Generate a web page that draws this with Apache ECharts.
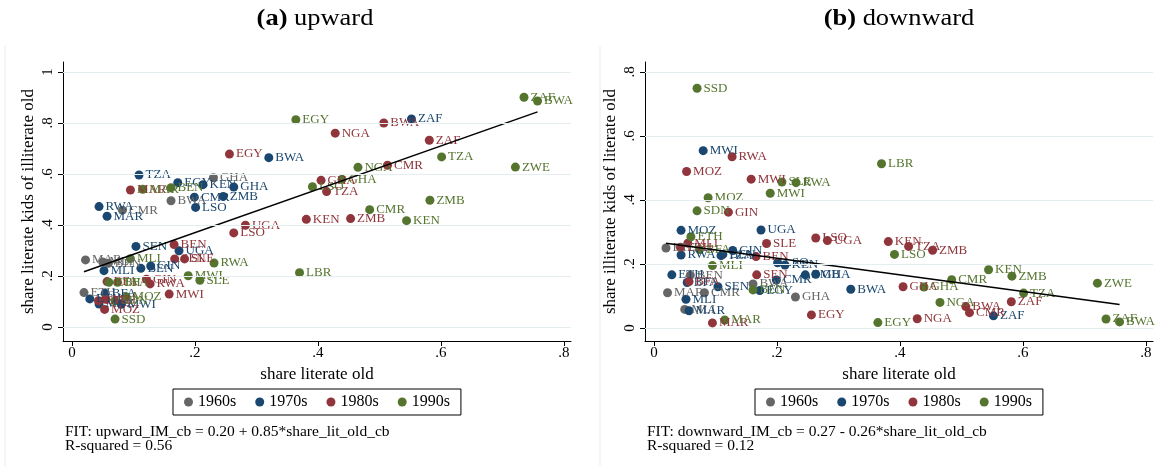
<!DOCTYPE html>
<html>
<head>
<meta charset="utf-8">
<script src="https://cdn.jsdelivr.net/npm/echarts@6/dist/echarts.min.js"></script>
<style>
  html, body { margin: 0; padding: 0; background: #fff; }
  #chart { width: 1165px; height: 466px; }
</style>
</head>
<body>
<div id="chart"></div>
<script>
// Intergenerational literacy mobility by country and birth decade.
// x: share of the old generation that is literate; up: share of literate kids of illiterate old;
// down: share of illiterate kids of literate old.
const decades = ['1960s', '1970s', '1980s', '1990s'];
const decadeColors = ['#666666', '#1a476f', '#90353b', '#55752f'];

const names1960 = ['GHA', 'BWA', 'CMR', 'MAR', 'ETH', 'MLI', 'BEN'];
const x1960 =    [0.230, 0.161, 0.082, 0.022, 0.0195, 0.050, 0.059];
const up1960 =   [0.585, 0.495, 0.458, 0.263, 0.135, 0.255, 0.250];
const down1960 = [0.097, 0.1375, 0.110, 0.110, 0.250, 0.058, 0.165];

const names1970 = ['TZA', 'EGY', 'KEN', 'GHA', 'CMR', 'ZMB', 'LSO', 'RWA', 'MAR', 'BWA', 'ZAF', 'SEN', 'UGA', 'MLI', 'BEN', 'GIN', 'BFA', 'ETH', 'MOZ', 'MWI'];
const x1970 =    [0.109, 0.172, 0.213, 0.263, 0.199, 0.246, 0.201, 0.044, 0.057, 0.320, 0.552, 0.104, 0.174, 0.052, 0.112, 0.128, 0.054, 0.029, 0.044, 0.080];
const up1970 =   [0.596, 0.566, 0.558, 0.549, 0.509, 0.512, 0.469, 0.472, 0.434, 0.664, 0.816, 0.316, 0.299, 0.221, 0.230, 0.239, 0.132, 0.110, 0.090, 0.089];
const down1970 = [0.226, 0.117, 0.197, 0.168, 0.150, 0.166, 0.204, 0.228, 0.054, 0.121, 0.038, 0.129, 0.306, 0.090, 0.230, 0.242, 0.142, 0.166, 0.305, 0.554];

const names1980 = ['MAR', 'EGY', 'NGA', 'BWA', 'ZAF', 'CMR', 'GHA', 'TZA', 'KEN', 'ZMB', 'UGA', 'LSO', 'BEN', 'SEN', 'SLE', 'GIN', 'RWA', 'MWI', 'MOZ', 'BFA', 'ETH', 'MLI'];
const x1980 =    [0.095, 0.256, 0.428, 0.507, 0.581, 0.513, 0.405, 0.414, 0.381, 0.453, 0.282, 0.263, 0.166, 0.167, 0.183, 0.121, 0.127, 0.158, 0.053, 0.057, 0.043, 0.055];
const up1980 =   [0.537, 0.678, 0.760, 0.800, 0.732, 0.634, 0.575, 0.531, 0.422, 0.425, 0.399, 0.369, 0.323, 0.267, 0.267, 0.187, 0.169, 0.129, 0.069, 0.178, 0.103, 0.109];
const down1980 = [0.016, 0.041, 0.029, 0.067, 0.082, 0.048, 0.129, 0.255, 0.270, 0.243, 0.273, 0.281, 0.223, 0.166, 0.264, 0.362, 0.535, 0.465, 0.489, 0.145, 0.252, 0.265];

const names1990 = ['ZAF', 'BWA', 'EGY', 'NGA', 'TZA', 'ZWE', 'GHA', 'LSO', 'ZMB', 'CMR', 'KEN', 'LBR', 'RWA', 'SLE', 'MWI', 'MOZ', 'SDN', 'SSD', 'ETH', 'BFA', 'MAR', 'BEN', 'MLI'];
const x1990 =    [0.735, 0.757, 0.364, 0.465, 0.601, 0.721, 0.439, 0.391, 0.582, 0.484, 0.544, 0.370, 0.231, 0.208, 0.189, 0.088, 0.070, 0.070, 0.060, 0.074, 0.115, 0.161, 0.095];
const up1990 =   [0.901, 0.886, 0.813, 0.626, 0.667, 0.627, 0.579, 0.550, 0.497, 0.460, 0.417, 0.213, 0.251, 0.183, 0.201, 0.119, 0.103, 0.031, 0.175, 0.175, 0.540, 0.546, 0.268];
const down1990 = [0.028, 0.019, 0.017, 0.080, 0.109, 0.140, 0.128, 0.230, 0.162, 0.151, 0.182, 0.513, 0.454, 0.456, 0.421, 0.407, 0.366, 0.749, 0.285, 0.245, 0.025, 0.119, 0.195];

// Linear fits reported under each panel
const fitUp = { a: 0.20, b: 0.85 };
const fitDown = { a: 0.27, b: -0.26 };

const xTicks = [0, 0.2, 0.4, 0.6, 0.8];
const yTicksUp = [0, 0.2, 0.4, 0.6, 0.8, 1];
const yTicksDown = [0, 0.2, 0.4, 0.6, 0.8];

const panelTitles = [['(a)', ' upward'], ['(b)', ' downward']];
const xTitle = 'share literate old';
const yTitles = ['share literate kids of illiterate old', 'share illiterate kids of literate old'];
const fitNotes = [
  ['FIT: upward_IM_cb = 0.20 + 0.85*share_lit_old_cb', 'R-squared = 0.56'],
  ['FIT: downward_IM_cb = 0.27 - 0.26*share_lit_old_cb', 'R-squared = 0.12']
];

const names = [names1960, names1970, names1980, names1990];
const xs = [x1960, x1970, x1980, x1990];
const ups = [up1960, up1970, up1980, up1990];
const downs = [down1960, down1970, down1980, down1990];

const FONT = '"Liberation Serif", "DejaVu Serif", serif';

function stataTick(v) {
  if (v === 0) return '0';
  if (v === 1) return '1';
  return String(Math.round(v * 10) / 10).replace(/^0/, '');
}

function xAxisFor(gi) {
  return {
    type: 'value', gridIndex: gi, min: -0.01463, max: 0.8114,
    axisLine: { show: true, onZero: false, lineStyle: { color: '#000', width: 1 } },
    axisTick: { show: true, customValues: xTicks, length: 5, lineStyle: { color: '#000' } },
    axisLabel: { customValues: xTicks, formatter: stataTick, color: '#000', fontFamily: FONT, fontSize: 15, margin: 5 },
    splitLine: { show: false },
    name: xTitle, nameLocation: 'middle', nameGap: 24,
    nameTextStyle: { color: '#000', fontFamily: FONT, fontSize: 17 }
  };
}

function yAxisFor(gi, min, max, ticks, title) {
  return {
    type: 'value', gridIndex: gi, min: min, max: max,
    axisLine: { show: true, onZero: false, lineStyle: { color: '#000', width: 1 } },
    axisTick: { show: true, customValues: ticks, length: 5, lineStyle: { color: '#000' } },
    axisLabel: { customValues: ticks, formatter: stataTick, rotate: 90, color: '#000', fontFamily: FONT, fontSize: 15, margin: 7 },
    splitLine: { show: false },
    name: title, nameLocation: 'middle', nameGap: 26, nameRotate: 90,
    nameTextStyle: { color: '#000', fontFamily: FONT, fontSize: 17 }
  };
}

const series = [];
// light horizontal grid lines
[[0, yTicksUp], [1, yTicksDown]].forEach(([gi, ticks]) => {
  series.push({
    type: 'line', xAxisIndex: gi, yAxisIndex: gi, data: [], silent: true, z: 0,
    markLine: {
      silent: true, symbol: 'none', animation: false,
      label: { show: false },
      lineStyle: { color: '#e4edf0', width: 1.2, type: 'solid' },
      data: ticks.map(t => ({ yAxis: t }))
    }
  });
});

[[0, ups], [1, downs]].forEach(([gi, ys]) => {
  decades.forEach((d, k) => {
    series.push({
      name: d, type: 'scatter', xAxisIndex: gi, yAxisIndex: gi,
      symbol: 'circle', symbolSize: 9, z: 2,
      itemStyle: { color: decadeColors[k], opacity: 1 },
      label: {
        show: true, position: 'right', distance: 2,
        formatter: p => p.data[2],
        color: decadeColors[k], fontFamily: FONT, fontSize: 13
      },
      labelLayout: { hideOverlap: false },
      emphasis: { disabled: true },
      data: names[k].map((n, i) => [xs[k][i], ys[k][i], n]),
      animation: false
    });
  });
});

// fitted lines across the observed range of x
const allX = [].concat(x1960, x1970, x1980, x1990);
const xLo = Math.min.apply(null, allX), xHi = Math.max.apply(null, allX);
[[0, fitUp], [1, fitDown]].forEach(([gi, f]) => {
  series.push({
    type: 'line', xAxisIndex: gi, yAxisIndex: gi, z: 3, silent: true,
    symbol: 'none', lineStyle: { color: '#000', width: 1.5 },
    data: [[xLo, f.a + f.b * xLo], [xHi, f.a + f.b * xHi]],
    animation: false
  });
});

const legendCommon = {
  data: decades, orient: 'horizontal', icon: 'circle',
  itemWidth: 9, itemHeight: 9, itemGap: 19,
  borderColor: '#000', borderWidth: 1, padding: [5, 11],
  textStyle: { color: '#000', fontFamily: FONT, fontSize: 16 },
  selectedMode: false
};

const graphics = [];
panelTitles.forEach((t, i) => {
  graphics.push({
    type: 'text', x: i === 0 ? 315 : 899, y: 19, scaleX: 1.15,
    style: {
      text: '{b|' + t[0] + '}{n|' + t[1] + '}',
      align: 'center', verticalAlign: 'middle',
      rich: {
        b: { fontFamily: FONT, fontSize: 23, fontWeight: 'bold', fill: '#000' },
        n: { fontFamily: FONT, fontSize: 23, fill: '#000' }
      }
    }
  });
});
fitNotes.forEach((lines, i) => {
  lines.forEach((s, j) => {
    graphics.push({
      type: 'text', x: i === 0 ? 65 : 647, y: 432 + j * 14,
      style: { text: s, fill: '#000', font: '15.5px ' + FONT, verticalAlign: 'middle' }
    });
  });
});
// faint outer frames of the two panels
graphics.push({ type: 'line', shape: { x1: 5, y1: 46, x2: 5, y2: 466 }, style: { stroke: '#ececec', lineWidth: 1 } });
graphics.push({ type: 'line', shape: { x1: 600, y1: 46, x2: 600, y2: 466 }, style: { stroke: '#ececec', lineWidth: 1 } });

const chart = echarts.init(document.getElementById('chart'), null, { renderer: 'canvas' });
chart.setOption({
  backgroundColor: '#fff',
  animation: false,
  grid: [
    { left: 63, top: 62, width: 508, height: 279, containLabel: false },
    { left: 645, top: 62, width: 508, height: 279, containLabel: false }
  ],
  xAxis: [xAxisFor(0), xAxisFor(1)],
  yAxis: [
    yAxisFor(0, -0.0549, 1.039, yTicksUp, yTitles[0]),
    yAxisFor(1, -0.0406, 0.831, yTicksDown, yTitles[1])
  ],
  legend: [
    Object.assign({ left: 173, top: 389 }, legendCommon),
    Object.assign({ left: 755, top: 389 }, legendCommon)
  ],
  series: series,
  graphic: graphics
});
</script>
</body>
</html>
